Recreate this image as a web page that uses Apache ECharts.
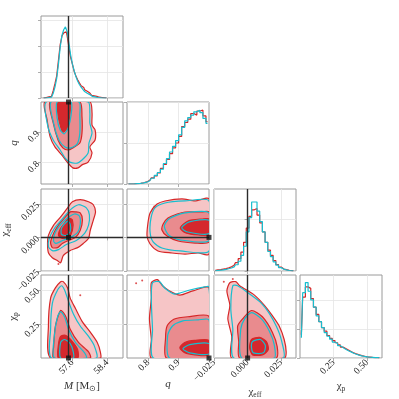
<!DOCTYPE html>
<html>
<head>
<meta charset="utf-8">
<script src="https://cdn.jsdelivr.net/npm/echarts@6/dist/echarts.min.js"></script>
<style>
html, body { margin: 0; padding: 0; background: #fff; }
#chart { width: 399px; height: 399px; }
</style>
</head>
<body>
<div id="chart"></div>
<script>
// tick labels
const M_TICKS = [57.6, 58.4];
const Q_TICKS = [0.8, 0.9];
const CHI_EFF_TICKS = [-0.025, 0, 0.025];
const CHI_P_TICKS = [0.25, 0.5];

// injected values
const TRUTH_M = 57.51, TRUTH_Q = 1.0, TRUTH_CHI_EFF = 0.0, TRUTH_CHI_P = 0.0;

// 1d marginals (bin centres, densities)
const M_BINS = [56.94,56.98,57.02,57.06,57.10,57.14,57.18,57.22,57.26,57.30,57.34,57.38,57.42,57.46,57.50,57.54,57.58,57.62,57.66,57.70,57.74,57.78,57.82,57.86,57.90,57.94,57.98,58.02,58.06,58.10,58.14,58.18,58.22,58.26,58.30,58.34,58.38];
const M_RED = [0,0.02,0.03,0.04,0.06,0.12,0.28,0.55,0.85,1.45,2.05,2.38,2.50,2.54,2.38,1.95,1.55,1.30,1.02,0.85,0.70,0.58,0.47,0.40,0.32,0.26,0.19,0.14,0.10,0.08,0.06,0.04,0.03,0.02,0.01,0.01,0];
const M_CYAN = [0,0,0.01,0.02,0.03,0.07,0.18,0.42,0.75,1.30,1.95,2.40,2.62,2.73,2.55,2.10,1.65,1.30,1.05,0.82,0.65,0.52,0.42,0.33,0.25,0.18,0.13,0.09,0.06,0.04,0.03,0.02,0.01,0.01,0,0,0];

const Q_BINS = [0.735,0.745,0.755,0.765,0.775,0.785,0.795,0.805,0.815,0.825,0.835,0.845,0.855,0.865,0.875,0.885,0.895,0.905,0.915,0.925,0.935,0.945,0.955,0.965,0.975,0.985,0.995];
const Q_RED = [0,0,0.02,0.05,0.08,0.15,0.25,0.45,0.75,1.0,1.35,1.9,2.4,3.0,3.7,4.4,5.0,5.8,7.0,7.5,7.9,8.6,8.4,8.9,9.0,8.3,7.6];
const Q_CYAN = [0,0,0.01,0.04,0.07,0.13,0.22,0.4,0.7,1.05,1.4,1.8,2.5,3.1,3.9,4.6,5.3,6.0,6.9,7.7,8.1,8.4,8.8,9.0,8.7,8.0,7.4];

const C_BINS = [-0.024,-0.022,-0.020,-0.018,-0.016,-0.014,-0.012,-0.010,-0.008,-0.006,-0.004,-0.002,0.000,0.002,0.004,0.006,0.008,0.010,0.012,0.014,0.016,0.018,0.020,0.022,0.024,0.026,0.028,0.030,0.032,0.034];
const C_RED = [0.5,0.8,1.0,1.4,1.8,2.4,3.2,4.5,6.5,9.5,14.5,22,33,42,47,48,43,37,30,22,16,12,8,5,3,1.5,1.0,0.6,0.3,0.1];
const C_CYAN = [0.2,0.4,0.6,0.9,1.2,1.7,2.3,3.2,4.8,7.5,12,19,30,41,53,53,46,38,30,22,15,11,7,4.5,2.6,1.4,0.8,0.4,0.2,0.1];

const P_BINS = [0.01,0.03,0.05,0.07,0.09,0.11,0.13,0.15,0.17,0.19,0.21,0.23,0.25,0.27,0.29,0.31,0.33,0.35,0.37,0.39,0.41,0.43,0.45,0.47,0.49,0.51,0.53,0.55,0.57,0.59];
const P_RED = [1.6,4.2,4.9,4.8,4.1,3.5,3.0,2.5,2.1,1.85,1.55,1.35,1.2,1.05,0.9,0.75,0.65,0.55,0.45,0.35,0.28,0.22,0.16,0.12,0.08,0.06,0.04,0.03,0.02,0.01];
const P_CYAN = [1.4,4.5,5.2,4.6,4.0,3.5,2.9,2.5,2.1,1.75,1.5,1.3,1.1,1.0,0.85,0.72,0.6,0.5,0.42,0.33,0.26,0.2,0.15,0.11,0.08,0.05,0.04,0.03,0.02,0.01];

// 2d credible contours (outer, middle, inner)
const MQ_RED_1 = [[56.97,1.0],[57.02,0.941],[57.09,0.885],[57.20,0.852],[57.36,0.825],[57.50,0.799],[57.61,0.783],[57.73,0.783],[57.82,0.793],[57.96,0.802],[58.05,0.832],[58.00,0.852],[58.12,0.875],[58.12,0.908],[58.05,0.924],[58.05,0.964],[58.00,1.0]];
const MQ_RED_2 = [[57.09,1.0],[57.16,0.931],[57.27,0.875],[57.38,0.849],[57.50,0.842],[57.61,0.849],[57.77,0.865],[57.82,0.898],[57.82,0.951],[57.77,1.0]];
const MQ_RED_3 = [[57.27,1.0],[57.27,0.957],[57.32,0.924],[57.38,0.901],[57.48,0.914],[57.54,0.957],[57.54,1.0]];
const MQ_CYAN_1 = [[57.00,1.0],[57.04,0.918],[57.16,0.875],[57.32,0.842],[57.43,0.816],[57.54,0.802],[57.71,0.799],[57.82,0.809],[57.96,0.832],[57.98,0.865],[58.05,0.898],[58.00,0.931],[58.00,0.964],[57.96,1.0]];
const MQ_CYAN_2 = [[57.11,1.0],[57.18,0.924],[57.29,0.875],[57.43,0.852],[57.57,0.849],[57.71,0.862],[57.77,0.898],[57.77,0.957],[57.75,1.0]];
const MQ_CYAN_3 = [[57.25,1.0],[57.25,0.947],[57.32,0.908],[57.41,0.895],[57.50,0.914],[57.57,0.957],[57.57,1.0]];

const MC_RED_1 = [[57.78,0.0281],[57.97,0.0265],[58.08,0.0243],[58.13,0.0190],[58.08,0.0129],[58.01,0.0053],[57.97,-0.0007],[57.85,-0.0045],[57.72,-0.0076],[57.55,-0.0098],[57.39,-0.0136],[57.33,-0.0189],[57.26,-0.0174],[57.14,-0.0151],[57.05,-0.0114],[57.03,-0.0045],[57.05,0.0015],[57.17,0.0091],[57.33,0.0152],[57.49,0.0220],[57.60,0.0265]];
const MC_RED_2 = [[57.67,0.0190],[57.78,0.0182],[57.83,0.0129],[57.78,0.0053],[57.67,0.0000],[57.51,-0.0023],[57.37,-0.0045],[57.26,-0.0076],[57.14,-0.0076],[57.10,-0.0038],[57.17,0.0030],[57.28,0.0091],[57.44,0.0152],[57.55,0.0190]];
const MC_RED_3 = [[57.51,0.0144],[57.60,0.0129],[57.60,0.0053],[57.51,0.0000],[57.37,-0.0007],[57.28,0.0015],[57.33,0.0068],[57.44,0.0114]];
const MC_CYAN_1 = [[57.74,0.0243],[57.92,0.0220],[57.99,0.0167],[57.97,0.0091],[57.88,0.0030],[57.69,-0.0023],[57.46,-0.0053],[57.28,-0.0091],[57.14,-0.0098],[57.05,-0.0068],[57.07,-0.0007],[57.19,0.0068],[57.37,0.0137],[57.55,0.0205]];
const MC_CYAN_2 = [[57.65,0.0174],[57.76,0.0159],[57.78,0.0099],[57.72,0.0038],[57.55,0.0000],[57.37,-0.0023],[57.23,-0.0045],[57.17,-0.0030],[57.19,0.0023],[57.30,0.0083],[57.46,0.0137]];
const MC_CYAN_3 = [[57.49,0.0121],[57.55,0.0099],[57.55,0.0045],[57.46,0.0015],[57.35,0.0023],[57.35,0.0068]];

const MP_RED_1 = [[57.10,0.0],[57.05,0.235],[57.10,0.440],[57.21,0.515],[57.33,0.561],[57.39,0.561],[57.49,0.515],[57.55,0.440],[57.67,0.364],[57.83,0.265],[58.01,0.190],[58.17,0.114],[58.24,0.045],[58.24,0.0]];
const MP_RED_2 = [[57.17,0.0],[57.17,0.083],[57.21,0.235],[57.33,0.349],[57.44,0.311],[57.55,0.212],[57.74,0.114],[57.97,0.045],[58.01,0.0]];
const MP_RED_3 = [[57.28,0.0],[57.28,0.098],[57.33,0.159],[57.44,0.167],[57.60,0.121],[57.72,0.061],[57.72,0.0]];
const MP_CYAN_1 = [[57.12,0.0],[57.10,0.212],[57.14,0.402],[57.26,0.500],[57.35,0.531],[57.42,0.500],[57.51,0.417],[57.62,0.326],[57.78,0.235],[57.97,0.159],[58.10,0.091],[58.15,0.0]];
const MP_CYAN_2 = [[57.19,0.0],[57.19,0.174],[57.26,0.303],[57.33,0.341],[57.42,0.303],[57.51,0.212],[57.67,0.114],[57.88,0.038],[57.92,0.0]];
const MP_CYAN_3 = [[57.33,0.0],[57.33,0.114],[57.42,0.136],[57.55,0.106],[57.62,0.045],[57.62,0.0]];

const QC_RED_1 = [[1.0,0.0286],[0.954,0.0271],[0.911,0.0286],[0.855,0.0271],[0.829,0.0248],[0.806,0.0182],[0.799,0.0107],[0.796,0.0010],[0.806,-0.0049],[0.832,-0.0101],[0.878,-0.0116],[0.921,-0.0124],[0.964,-0.0116],[1.0,-0.0124]];
const QC_RED_2 = [[1.0,0.0189],[0.977,0.0189],[0.921,0.0189],[0.895,0.0174],[0.865,0.0144],[0.849,0.0100],[0.845,0.0055],[0.862,0.0010],[0.898,-0.0027],[0.954,-0.0042],[1.0,-0.0034]];
const QC_RED_3 = [[1.0,0.0137],[0.977,0.0137],[0.931,0.0122],[0.905,0.0070],[0.924,0.0033],[0.964,0.0018],[1.0,0.0018]];
const QC_CYAN_1 = [[1.0,0.0271],[0.921,0.0271],[0.855,0.0256],[0.822,0.0219],[0.809,0.0144],[0.806,0.0040],[0.816,-0.0034],[0.845,-0.0079],[0.905,-0.0101],[1.0,-0.0101]];
const QC_CYAN_2 = [[1.0,0.0182],[0.921,0.0182],[0.870,0.0140],[0.853,0.0085],[0.867,0.0018],[0.904,-0.0018],[1.0,-0.0025]];
const QC_CYAN_3 = [[1.0,0.0128],[0.935,0.0115],[0.910,0.0072],[0.930,0.0040],[1.0,0.0028]];

const QP_RED_1 = [[0.810,0.0],[0.810,0.136],[0.804,0.288],[0.810,0.440],[0.810,0.553],[0.830,0.576],[0.847,0.531],[0.870,0.493],[0.904,0.462],[0.947,0.493],[1.0,0.515],[1.0,0.0]];
const QP_RED_2 = [[0.860,0.0],[0.857,0.150],[0.862,0.235],[0.884,0.285],[0.930,0.303],[1.0,0.305],[1.0,0.0]];
const QP_RED_3 = [[0.904,0.076],[0.920,0.114],[0.953,0.129],[1.0,0.129],[1.0,0.023],[0.953,0.023],[0.920,0.038]];
const QP_CYAN_1 = [[0.817,0.0],[0.814,0.212],[0.810,0.440],[0.814,0.553],[0.837,0.561],[0.854,0.515],[0.887,0.470],[0.937,0.500],[0.987,0.523],[1.0,0.523],[1.0,0.0]];
const QP_CYAN_2 = [[0.870,0.0],[0.864,0.167],[0.880,0.235],[0.914,0.273],[0.964,0.280],[1.0,0.280],[1.0,0.0]];
const QP_CYAN_3 = [[0.914,0.068],[0.937,0.098],[1.0,0.106],[1.0,0.030],[0.937,0.038]];

const CP_RED_1 = [[-0.0132,0.553],[-0.0088,0.561],[-0.0059,0.531],[0.0051,0.462],[0.0125,0.387],[0.0184,0.311],[0.0235,0.235],[0.0272,0.136],[0.0287,0.045],[0.0272,0.0],[-0.0118,0.0],[-0.0118,0.159],[-0.0147,0.288],[-0.0132,0.387],[-0.0154,0.493]];
const CP_RED_2 = [[0.0029,0.349],[-0.0037,0.288],[-0.0074,0.235],[-0.0066,0.120],[-0.0059,0.0],[0.0213,0.0],[0.0220,0.083],[0.0184,0.190],[0.0110,0.303]];
const CP_RED_3 = [[0.0029,0.136],[0.0088,0.152],[0.0140,0.121],[0.0154,0.061],[0.0110,0.023],[0.0037,0.023],[0.0015,0.076]];
const CP_CYAN_1 = [[-0.0110,0.531],[-0.0074,0.531],[0.0015,0.470],[0.0103,0.402],[0.0162,0.326],[0.0213,0.235],[0.0250,0.136],[0.0265,0.0],[-0.0103,0.0],[-0.0110,0.212],[-0.0125,0.364]];
const CP_CYAN_2 = [[0.0029,0.334],[-0.0022,0.288],[-0.0051,0.212],[-0.0044,0.0],[0.0198,0.0],[0.0198,0.098],[0.0162,0.197],[0.0103,0.288]];
const CP_CYAN_3 = [[0.0037,0.121],[0.0096,0.136],[0.0132,0.091],[0.0118,0.038],[0.0044,0.038],[0.0029,0.076]];

// stray samples outside the outer contour
const MC_DOTS = [[57.28,-0.0197]];
const MP_DOTS = [[57.28,0.614],[57.78,0.462]];
const QC_DOTS = [[0.820,0.0230]];
const QP_DOTS = [[0.780,0.569],[0.760,0.629],[0.760,0.550]];
const CP_DOTS = [[-0.0177,0.561],[-0.0110,0.580]];

const RED = '#d62728', CYAN = '#17becf';
const FILLS = ['#f6c5c6', '#e98b8e', '#d4282d'];
const FONT = 'Liberation Serif';
const TRUTH_COLOR = '#2b2b2b';

// grid slots: [col, row]
const COLS = [41, 127, 214, 300], ROWS = [16, 102, 189, 275];
const SLOTS = [[0,0],[0,1],[1,1],[0,2],[1,2],[2,2],[0,3],[1,3],[2,3],[3,3]];

const fmt1 = v => v.toFixed(1);
const fmtC = v => (v < -1e-9 ? '\u2212' : '') + Math.abs(v).toFixed(3);
const fmtP = v => v.toFixed(2);

const nameStyle = {
	fontFamily: FONT, fontSize: 11, color: '#333',
	rich: {
		i: { fontFamily: FONT, fontStyle: 'italic', fontSize: 11, color: '#333' },
		n: { fontFamily: FONT, fontSize: 11, color: '#333' },
		s: { fontFamily: FONT, fontSize: 7.5, color: '#333', padding: [6, 0, 0, 0] }
	}
};

function valAxis(g, min, max, ticks, fmt, showLabel, name, nameGap) {
	return {
		type: 'value', gridIndex: g, min: min, max: max,
		axisLine: { show: false },
		axisTick: { show: true, length: 3, lineStyle: { color: '#999', width: 0.8 }, customValues: ticks },
		axisLabel: { show: showLabel, customValues: ticks, rotate: 45, formatter: fmt,
			fontFamily: FONT, fontSize: 9.5, color: '#222', margin: 3 },
		splitLine: { show: true, lineStyle: { color: '#e4e4e4', width: 0.8 } },
		name: name || '', nameLocation: 'middle', nameGap: nameGap || 0,
		nameTextStyle: nameStyle
	};
}

const M_AX = [56.88, 58.76], Q_AX = [0.73, 1.0], C_AX = [-0.025, 0.036], P_AX = [0, 0.61];

const NAME_M = '{i|M} {n|[M}{s|\u2299}{n|]}';
const NAME_Q = '{i|q}';
const NAME_C = '{n|\u03c7}{s|eff}';
const NAME_P = '{n|\u03c7}{s|p}';

const xAxes = [
	valAxis(0, M_AX[0], M_AX[1], M_TICKS, fmt1, false),
	valAxis(1, M_AX[0], M_AX[1], M_TICKS, fmt1, false),
	valAxis(2, Q_AX[0], Q_AX[1], Q_TICKS, fmt1, false),
	valAxis(3, M_AX[0], M_AX[1], M_TICKS, fmt1, false),
	valAxis(4, Q_AX[0], Q_AX[1], Q_TICKS, fmt1, false),
	valAxis(5, C_AX[0], C_AX[1], CHI_EFF_TICKS, fmtC, false),
	valAxis(6, M_AX[0], M_AX[1], M_TICKS, fmt1, true, NAME_M, 21),
	valAxis(7, Q_AX[0], Q_AX[1], Q_TICKS, fmt1, true, NAME_Q, 21),
	valAxis(8, C_AX[0], C_AX[1], CHI_EFF_TICKS, fmtC, true, NAME_C, 21),
	valAxis(9, P_AX[0], P_AX[1], CHI_P_TICKS, fmtP, true, NAME_P, 21)
];
const yAxes = [
	valAxis(0, 0, 3.15, [0, 1, 2, 3], fmt1, false),
	valAxis(1, Q_AX[0], Q_AX[1], Q_TICKS, fmt1, true, NAME_Q, 21),
	valAxis(2, 0, 10, [0, 5, 10], fmt1, false),
	valAxis(3, C_AX[0], C_AX[1], CHI_EFF_TICKS, fmtC, true, NAME_C, 21),
	valAxis(4, C_AX[0], C_AX[1], CHI_EFF_TICKS, fmtC, false),
	valAxis(5, 0, 63, [0, 40], fmt1, false),
	valAxis(6, P_AX[0], P_AX[1], CHI_P_TICKS, fmtP, true, NAME_P, 21),
	valAxis(7, P_AX[0], P_AX[1], CHI_P_TICKS, fmtP, false),
	valAxis(8, P_AX[0], P_AX[1], CHI_P_TICKS, fmtP, false),
	valAxis(9, 0, 5.72, [0, 2, 4], fmt1, false)
];

const grids = SLOTS.map(([c, r]) => ({
	left: COLS[c], top: ROWS[r], width: 82, height: r === 3 ? 83 : 82,
	show: true, borderColor: '#9a9a9a', borderWidth: 1, backgroundColor: 'transparent',
	containLabel: false, outerBoundsMode: 'none'
}));

const truthLine = data => ({
	silent: true, symbol: 'none', animation: false, label: { show: false },
	lineStyle: { color: TRUTH_COLOR, width: 1.4, type: 'solid' }, data: data
});

function hist(g, bins, vals, color, lines) {
	let s = {
		type: 'line', xAxisIndex: g, yAxisIndex: g, step: 'middle', showSymbol: false, silent: true,
		data: bins.map((b, i) => [b, vals[i]]),
		lineStyle: { color: color, width: 1.2 }, z: 3
	};
	if (lines && lines.length) s.markLine = truthLine(lines);
	return s;
}

function contour(g, pts, fill, stroke, z) {
	return {
		type: 'custom', xAxisIndex: g, yAxisIndex: g, data: pts, silent: true, z: z,
		renderItem: function (params, api) {
			if (params.dataIndexInside !== 0) return null;
			let points = [];
			for (let i = 0; i < params.dataInsideLength; i++)
				points.push(api.coord([api.value(0, i), api.value(1, i)]));
			let cs = params.coordSys;
			return {
				type: 'polygon',
				shape: { points: points, smooth: 0.25 },
				style: { fill: fill, stroke: stroke, lineWidth: 1.2 },
				clipPath: { type: 'rect', shape: { x: cs.x, y: cs.y, width: cs.width, height: cs.height } }
			};
		}
	};
}

// lines: which truth lines lie inside the panel (the ones on the frame are not drawn)
function panel(g, reds, cyans, dots, truth, lines) {
	let out = [];
	reds.forEach((p, i) => out.push(contour(g, p, FILLS[i], RED, 2)));
	cyans.forEach(p => out.push(contour(g, p, 'none', CYAN, 2)));
	if (dots && dots.length) out.push({
		type: 'scatter', xAxisIndex: g, yAxisIndex: g, data: dots, symbolSize: 2, silent: true,
		itemStyle: { color: RED }, z: 3
	});
	let s = {
		type: 'scatter', xAxisIndex: g, yAxisIndex: g, data: [truth], symbol: 'rect', symbolSize: 5,
		silent: true, itemStyle: { color: '#111' }, z: 6
	};
	if (lines.length) s.markLine = truthLine(lines);
	out.push(s);
	return out;
}

const series = [].concat(
	hist(0, M_BINS, M_RED, RED, [{ xAxis: TRUTH_M }]), hist(0, M_BINS, M_CYAN, CYAN),
	hist(2, Q_BINS, Q_RED, RED), hist(2, Q_BINS, Q_CYAN, CYAN),
	hist(5, C_BINS, C_RED, RED, [{ xAxis: TRUTH_CHI_EFF }]), hist(5, C_BINS, C_CYAN, CYAN),
	hist(9, P_BINS, P_RED, RED), hist(9, P_BINS, P_CYAN, CYAN),
	panel(1, [MQ_RED_1, MQ_RED_2, MQ_RED_3], [MQ_CYAN_1, MQ_CYAN_2, MQ_CYAN_3], null,
		[TRUTH_M, TRUTH_Q], [{ xAxis: TRUTH_M }]),
	panel(3, [MC_RED_1, MC_RED_2, MC_RED_3], [MC_CYAN_1, MC_CYAN_2, MC_CYAN_3], MC_DOTS,
		[TRUTH_M, TRUTH_CHI_EFF], [{ xAxis: TRUTH_M }, { yAxis: TRUTH_CHI_EFF }]),
	panel(4, [QC_RED_1, QC_RED_2, QC_RED_3], [QC_CYAN_1, QC_CYAN_2, QC_CYAN_3], QC_DOTS,
		[TRUTH_Q, TRUTH_CHI_EFF], [{ yAxis: TRUTH_CHI_EFF }]),
	panel(6, [MP_RED_1, MP_RED_2, MP_RED_3], [MP_CYAN_1, MP_CYAN_2, MP_CYAN_3], MP_DOTS,
		[TRUTH_M, TRUTH_CHI_P], [{ xAxis: TRUTH_M }]),
	panel(7, [QP_RED_1, QP_RED_2, QP_RED_3], [QP_CYAN_1, QP_CYAN_2, QP_CYAN_3], QP_DOTS,
		[TRUTH_Q, TRUTH_CHI_P], []),
	panel(8, [CP_RED_1, CP_RED_2, CP_RED_3], [CP_CYAN_1, CP_CYAN_2, CP_CYAN_3], CP_DOTS,
		[TRUTH_CHI_EFF, TRUTH_CHI_P], [{ xAxis: TRUTH_CHI_EFF }])
);

let chart = echarts.init(document.getElementById('chart'), null, { renderer: 'canvas' });
chart.setOption({
	animation: false,
	backgroundColor: '#fff',
	textStyle: { fontFamily: FONT },
	grid: grids,
	xAxis: xAxes,
	yAxis: yAxes,
	series: series
});
</script>
</body>
</html>
